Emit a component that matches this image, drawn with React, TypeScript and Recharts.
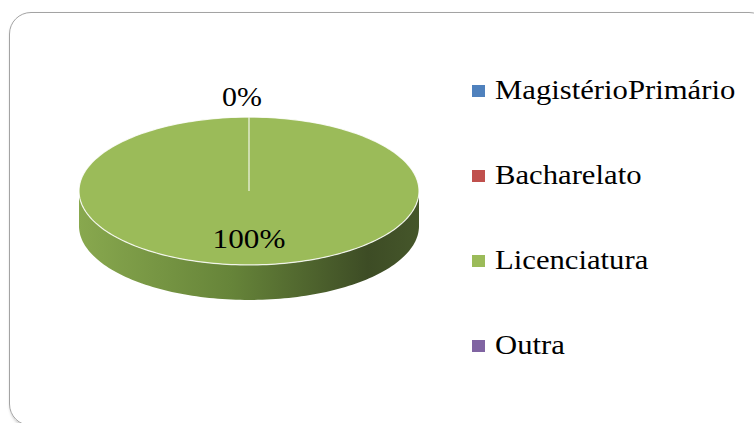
import React from 'react';
import { PieChart, Pie, Cell, Legend } from 'recharts';

const categories = ['MagistérioPrimário', 'Bacharelato', 'Licenciatura', 'Outra'];
const shares = [0, 0, 100, 0];
const colors = ['#4f81bd', '#c0504d', '#9bbb59', '#8064a2'];

const data = categories.map((name, i) => ({ name, value: shares[i] }));

const TILT = 0.435;
const DEPTH = 35;
// above 26px this font gets swapped for a sans one here, so keep 26 and stretch
const FONT = "'Liberation Serif'";
const FONT_SIZE = 26;

const pt = (cx: number, cy: number, rx: number, ry: number, a: number) => {
  const r = (a * Math.PI) / 180;
  return [cx + rx * Math.cos(r), cy - ry * Math.sin(r)];
};

// ellipse sector with a 3d side band for the front half
const EllipseSector = (props: any) => {
  const { cx, cy, outerRadius, startAngle, endAngle, fill } = props;
  if (Math.abs(endAngle - startAngle) < 0.01) return null;
  const rx = outerRadius;
  const ry = outerRadius * TILT;
  const n = 240;
  const angles: number[] = [];
  for (let i = 0; i <= n; i++) angles.push(startAngle + ((endAngle - startAngle) * i) / n);

  const top = angles.map((a) => pt(cx, cy, rx, ry, a));
  const topPath = `M${cx},${cy} ` + top.map((p) => `L${p[0]},${p[1]}`).join(' ') + ' Z';

  // runs of the arc lying on the front (lower) half
  const runs: number[][][] = [];
  let cur: number[][] = [];
  angles.forEach((a, i) => {
    if (Math.sin((a * Math.PI) / 180) <= 0.0001) cur.push(top[i]);
    else if (cur.length) {
      runs.push(cur);
      cur = [];
    }
  });
  if (cur.length) runs.push(cur);

  return (
    <g>
      <defs>
        <linearGradient id="pieSide" gradientUnits="userSpaceOnUse" x1={cx - rx} y1={0} x2={cx + rx} y2={0}>
          <stop offset="0" stopColor="#88a84e" />
          <stop offset="0.45" stopColor="#668439" />
          <stop offset="0.85" stopColor="#3d4c25" />
          <stop offset="1" stopColor="#45562a" />
        </linearGradient>
      </defs>
      {runs.map((run, k) => {
        const back = [...run].reverse().map((p) => `L${p[0]},${p[1] + DEPTH}`).join(' ');
        const d = `M${run[0][0]},${run[0][1]} ` + run.slice(1).map((p) => `L${p[0]},${p[1]}`).join(' ') + ' ' + back + ' Z';
        return <path key={k} d={d} fill="url(#pieSide)" />;
      })}
      <path d={topPath} fill={fill} stroke="#ffffff" strokeWidth={1.2} strokeOpacity={0.85} />
    </g>
  );
};

const renderLabel = (props: any) => {
  const { cx, cy, midAngle, outerRadius, percent, index } = props;
  const rx = outerRadius;
  const ry = outerRadius * TILT;
  const text = `${Math.round(percent * 100)}%`;
  if (percent === 0) {
    if (index !== 0) return null;
    const [x, y] = pt(cx, cy, rx, ry + 21, midAngle);
    return (
      <text transform={`translate(${x - 7},${y}) scale(1.15,1.08)`} textAnchor="middle" dominantBaseline="central"
        style={{ fontFamily: FONT, fontSize: FONT_SIZE }} fill="#000">
        {text}
      </text>
    );
  }
  const [x, y] = pt(cx, cy, rx * 0.64, ry * 0.64, midAngle);
  return (
    <text transform={`translate(${x},${y}) scale(1.2,1.08)`} textAnchor="middle" dominantBaseline="central"
      style={{ fontFamily: FONT, fontSize: FONT_SIZE }} fill="#000">
      {text}
    </text>
  );
};

const renderLegend = (props: any) => {
  const payload = [...(props.payload || [])].sort(
    (a: any, b: any) => categories.indexOf(a.value) - categories.indexOf(b.value)
  );
  return (
    <div style={{ display: 'flex', flexDirection: 'column' }}>
      {payload.map((entry: any) => (
        <div key={entry.value} style={{ height: 85, display: 'flex', alignItems: 'center' }}>
          <span style={{ width: 13, height: 12, background: entry.color, display: 'inline-block', marginRight: 10 }} />
          <span style={{ fontFamily: FONT, fontSize: FONT_SIZE, color: '#000', whiteSpace: 'nowrap',
            display: 'inline-block', transform: 'scale(1.18,1.03)', transformOrigin: 'left center' }}>
            {entry.value}
          </span>
        </div>
      ))}
    </div>
  );
};

export default function App() {
  return (
    <div style={{ position: 'absolute', left: 0, top: 0, width: 754, height: 423, overflow: 'hidden', background: '#fff' }}>
      <div style={{ position: 'absolute', left: 9, top: 12, width: 760, height: 412, border: '1.5px solid #a3a3a3',
        borderRadius: 22, boxShadow: '1px 2px 3px rgba(0,0,0,0.25)' }} />
      <div style={{ position: 'absolute', left: 0, top: 0 }}>
        <PieChart width={754} height={423} margin={{ top: 0, right: 0, bottom: 0, left: 0 }}>
          <Pie
            data={data}
            dataKey="value"
            nameKey="name"
            cx={249}
            cy={191}
            outerRadius={170}
            startAngle={90}
            endAngle={-270}
            stroke="none"
            shape={EllipseSector}
            label={renderLabel}
            labelLine={false}
            isAnimationActive={false}
          >
            {data.map((d, i) => (
              <Cell key={d.name} fill={colors[i]} />
            ))}
          </Pie>
          <Legend
            layout="vertical"
            align="right"
            verticalAlign="top"
            content={renderLegend}
            wrapperStyle={{ left: 472, top: 48, width: 282 }}
          />
        </PieChart>
      </div>
    </div>
  );
}
